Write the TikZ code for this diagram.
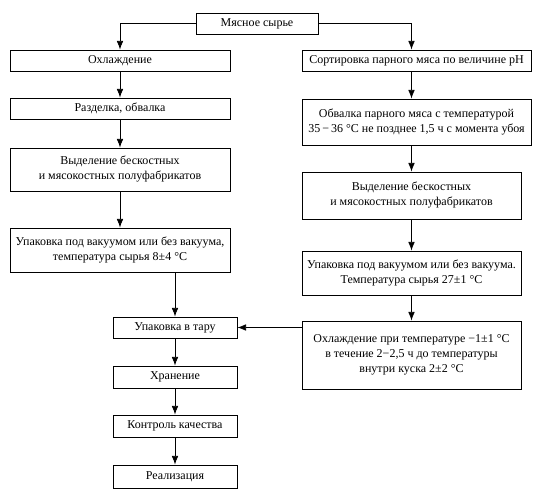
\documentclass[tikz,border=0pt]{standalone}
\usepackage{fontspec}
\setmainfont{Liberation Serif}
\usetikzlibrary{arrows.meta}

\begin{document}
\begin{tikzpicture}[x=0.75pt,y=0.75pt,yscale=-1,xscale=1,
  stage/.style={draw,line width=0.6pt,inner sep=0.75pt,align=center,
    font=\fontsize{9}{11.25}\selectfont},
  flow/.style={line width=0.6pt,-{Latex[length=6.5pt,width=5pt]}}]
\useasboundingbox (0,0) rectangle (537,502);

%Shape: Rectangle [id:raw]
\node [stage,minimum width=91.5pt,minimum height=15.75pt] (raw) at (257,23.5) {Мясное сырье};
%Shape: Rectangle [id:cool]
\node [stage,minimum width=165pt,minimum height=15.75pt] (cool) at (120,60.5) {Охлаждение};
%Shape: Rectangle [id:sort]
\node [stage,minimum width=171.75pt,minimum height=15.75pt] (sort) at (416.5,60.5) {Сортировка парного мяса по величине pH};
%Shape: Rectangle [id:cut]
\node [stage,minimum width=165pt,minimum height=15.75pt] (cut) at (120,108.5) {Разделка, обвалка};
%Shape: Rectangle [id:debone]
\node [stage,minimum width=171.75pt,minimum height=34.5pt] (debone) at (416.5,122) {Обвалка парного мяса с температурой\\35\,−\,36 °C не позднее 1,5 ч с момента убоя};
%Shape: Rectangle [id:partsL]
\node [stage,minimum width=165pt,minimum height=32.25pt] (partsL) at (120,169.5) {Выделение бескостных\\и мясокостных полуфабрикатов};
%Shape: Rectangle [id:partsR]
\node [stage,minimum width=164.25pt,minimum height=35.25pt] (partsR) at (411.5,195.5) {Выделение бескостных\\и мясокостных полуфабрикатов};
%Shape: Rectangle [id:packL]
\node [stage,minimum width=165pt,minimum height=33pt] (packL) at (120,250) {Упаковка под вакуумом или без вакуума,\\температура сырья 8±4 °C};
%Shape: Rectangle [id:packR]
\node [stage,minimum width=164.25pt,minimum height=33pt] (packR) at (411.5,273) {Упаковка под вакуумом или без вакуума.\\Температура сырья 27±1 °C};
%Shape: Rectangle [id:box]
\node [stage,minimum width=93pt,minimum height=15.75pt] (box) at (175,327.5) {Упаковка в тару};
%Shape: Rectangle [id:chill]
\node [stage,minimum width=164.25pt,minimum height=51pt] (chill) at (411.5,355) {Охлаждение при температуре −1±1 °C\\в течение 2−2,5 ч до температуры\\внутри куска 2±2 °C};
%Shape: Rectangle [id:store]
\node [stage,minimum width=93pt,minimum height=16.5pt] (store) at (175,377) {Хранение};
%Shape: Rectangle [id:check]
\node [stage,minimum width=93pt,minimum height=16.5pt] (check) at (175,426) {Контроль качества};
%Shape: Rectangle [id:sale]
\node [stage,minimum width=93pt,minimum height=17.25pt] (sale) at (175,476.5) {Реализация};

%Straight Lines [id:left branch]
\draw [flow] (raw.west) -| (cool.north);
\draw [flow] (cool) -- (cut);
\draw [flow] (cut) -- (partsL);
\draw [flow] (partsL) -- (packL);
\draw [flow] (packL.south -| box) -- (box);
%Straight Lines [id:right branch]
\draw [flow] (raw.east) -| (sort.north -| partsR);
\draw [flow] (sort.south -| partsR) -- (debone.north -| partsR);
\draw [flow] (debone.south -| partsR) -- (partsR);
\draw [flow] (partsR) -- (packR);
\draw [flow] (packR) -- (chill);
\draw [flow] (chill.west |- box) -- (box);
%Straight Lines [id:final]
\draw [flow] (box) -- (store);
\draw [flow] (store) -- (check);
\draw [flow] (check) -- (sale);

\end{tikzpicture}
\end{document}
